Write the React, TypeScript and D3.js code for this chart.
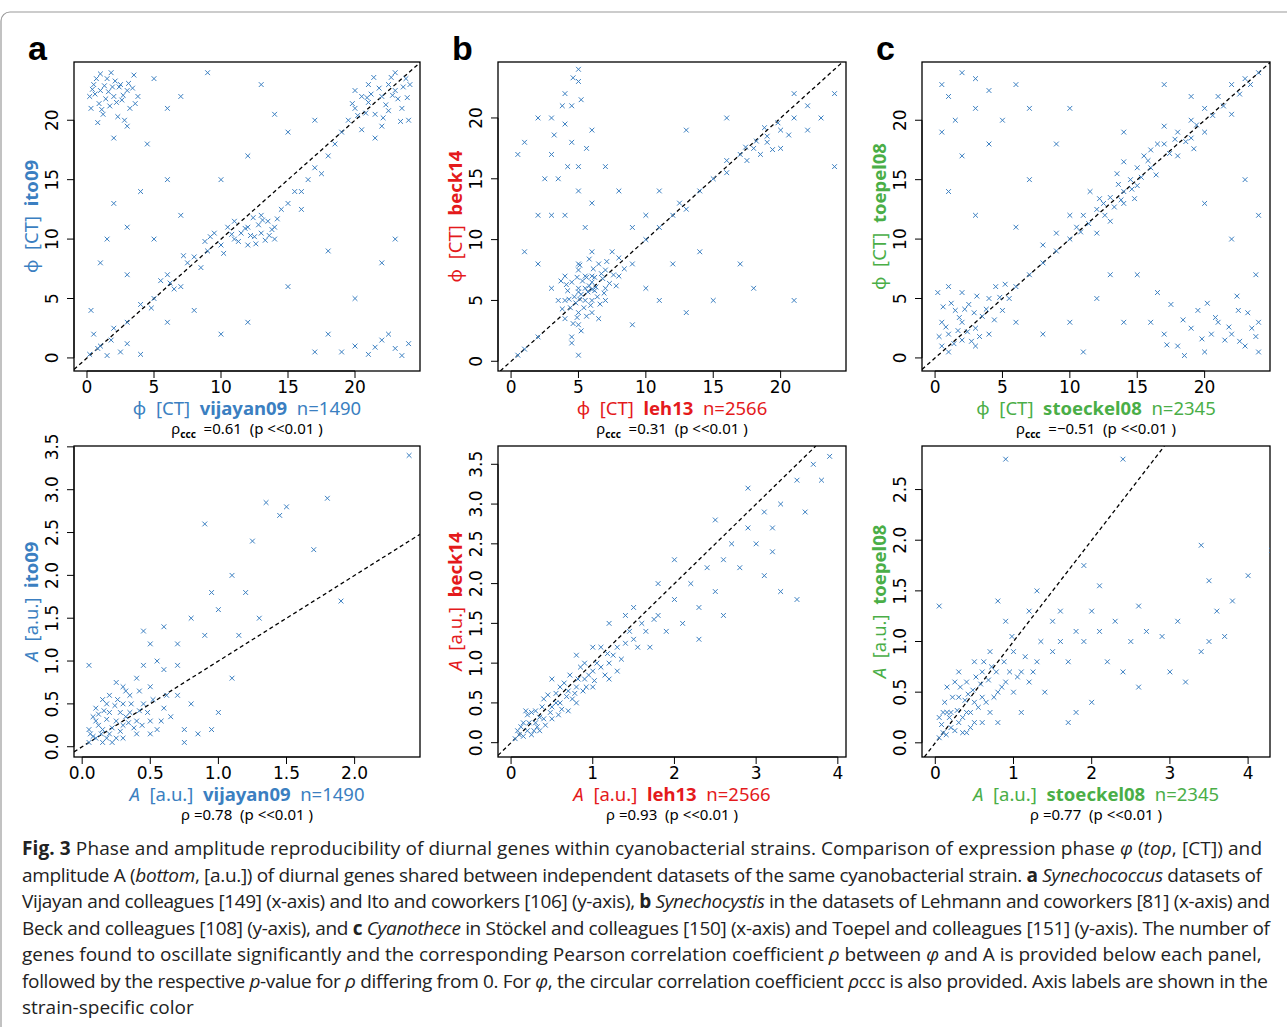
import React, { useEffect } from 'react'
import * as d3 from 'd3'

type P = [number, number]

const BLUE = '#3b7fc1'
const RED = '#e41a1c'
const GREEN = '#4aae47'

// phase panels (top)
const phaseA: P[] = [[0.5,23],[1,22.5],[1.5,23.5],[2,22],[2.5,23],[3,22.5],[3.5,23.8],[0.3,21],[1.2,20.5],[2.2,21.5],[3.2,21],[0.8,19.8],[1.8,24],[2.8,20],[3.8,22],[0.6,22.2],[1.4,21.8],[2.4,22.8],[3,19.5],[1,23.9],[5,23.5],[6,21],[7,22],[9,24],[13,23],[14,20.5],[4.5,18],[2,18.5],
  [1,1],[2,2.5],[3,3],[4,4.5],[5,5],[5.5,6.5],[6,7],[7,6],[7.5,8],[8,8.5],[9,9],[9.5,10.5],[10,9.5],[10.5,11],[11,10],[11.5,10.5],[12,11],[12.5,10.2],[13,10.5],[13.5,11.5],[14,11],[14.5,12.5],[15,13],[12,9.5],[13,12],[11,11.5],[14,10],[16,14],[16.5,15],[17,16],[17.5,15.5],[18,17],[18.5,18],[19,19],[15.5,14],[16,12.5],
  [19.5,20],[20,21],[20.5,22],[21,21.5],[21.5,20.5],[22,22],[22.5,23],[23,22.5],[23.5,21],[24,20],[21,23],[22,19.5],[20,22.5],[23,24],[23.8,23.5],[21.5,18.5],[22.5,20.8],[20.5,19.2],
  [0.2,0.3],[0.8,0.8],[1.5,0.2],[2.5,0.5],[3,1.2],[0.5,2],[1.8,1.5],[4,0.3],[0.3,4],
  [19,0.5],[20,1],[21,0.3],[22,1.5],[23,0.8],[23.5,0.2],[22.5,2],[21.5,0.9],[17,0.5],[18,2],[24,1.2],
  [3,11],[1,8],[2,13],[4,14],[6,3],[8,4],[10,2],[12,3],[5,10],[7,12],[10,15],[12,17],[15,19],[17,20],[18,9],[20,5],[23,10],[22,8],[15,6],[6,15],[1.5,10],[3,7]]
const phaseACore: P[] = [[0.4,22.6],[0.9,21.4],[1.3,22.9],[1.7,21.2],[2.1,23.3],[2.6,21.7],[3.1,23.1],[3.6,21.4],[0.7,23.5],[1.1,20.9],[1.6,22.4],[2.3,20.3],[2.7,22.1],[3.4,22.7],[0.2,22],[1.9,22.8],[12.2,10.3],[12.8,11.2],[13.3,9.9],[13.8,10.8],[11.8,10.9],[12.6,9.6],[13.1,11.6],[14.2,11.7],[11.3,9.8],[10.8,10.4],[12.4,11.8],[13.6,10.3],[21.2,22.2],[22.3,21.3],[23.2,21.8],[22.8,22.1],[21.8,22.7],[20.8,20.6],[23.6,22.8],[22.1,20.2],[23.9,21.9],[21.4,23.6],[20.2,20.4],[23.4,19.9],[22.7,23.6],[20.9,21.9],[19.8,21.4],[24.1,23],[4.8,4.2],[6.5,5.8],[8.5,7.6],[7.2,8.6],[9.2,10.2],[10.2,8.8],[8.8,9.8],[6.2,6.3]]

const phaseB: P[] = [[4,5],[5,6],[6,6.5],[5.5,5],[6,7],[7,7.5],[4.5,6.5],[5,4],[6,5],[7,6],[5,7.5],[4,3.5],[6.5,8],[5.5,6],[3.5,5],[8,7],[5,3],[4.5,2],[6,4],[7,5],[3,6],[5,8],[6,9],[5,0.5],[4.5,1.5],[8,8.5],[9,8],[7.5,9],[4,7],[6.5,3.5],[5.2,5.5],[5.8,6.2],[6.2,5.8],[4.8,4.8],[5.5,7],[6.8,6.8],
  [3,20],[4,22],[5,23],[4.5,18],[3.5,15],[5,14],[4,12],[5.5,11],[3,17],[6,19],[4.5,21],[5,16],[2,20],[1,18],[0.5,17],[2.5,15],[6,13],[3,12],[5,24],[4,19.5],[7,16],[2,12],
  [10,10],[11,11],[12,12],[13,12.5],[14,14],[15,15],[16,15.5],[17,17],[18,17.5],[19,18],[20,19],[21,20],[22,21],[23,20],[24,22],[19,18.5],[18.5,17],[20,17.5],[17.5,16.5],[21,22],[22,19],[24,16],[16,16.5],[12.5,13],[9,11],[10,12],
  [10,6],[13,4],[15,5],[18,6],[21,5],[11,5],[12,8],[9,3],[14,9],[17,8],[1,1],[2,2],[0.5,0.5],[13,19],[11,14],[8,14],[16,20],[1,9],[2,8]]
const phaseBCore: P[] = [[4.2,5.8],[4.7,5.3],[5.3,6.6],[5.7,5.7],[6.3,6.1],[6.7,7.2],[4.4,4.4],[5.1,5.1],[5.9,4.6],[6.4,5.3],[7.3,6.4],[4.9,6.9],[5.4,4.4],[6.1,7.6],[4.1,6.3],[5.6,3.7],[6.6,4.7],[7.6,7.1],[3.8,4.3],[5.2,2.5],[4.6,3.1],[5.8,8.4],[7.1,8.2],[6.9,5.6],[5.1,7.9],[4.3,5.1],[5.6,6.9],[6.2,6.9],[5.0,5.7],[6.0,5.9],[4.9,3.6],[3.7,6.6],[8.4,7.6],[7.8,6.2],[4.2,16],[3.8,21],[5.2,21.5],[4.6,23.3],[3.2,18.6],[5.6,17.5],[18.2,18.1],[19.4,17.4],[18.8,19.2],[17.4,17.6],[19.8,19.6],[20.6,18.6]]

const phaseC: P[] = [[0.5,1],[1,2],[2,3],[3,2.5],[1.5,4],[2.5,4.5],[3.5,3.5],[4,5],[0.5,3],[1,0.5],[2,1.5],[3,1],[4,2],[5,4],[4.5,6],[0.2,5.5],[1,6],[2,5.5],[5.5,5],[6,3],
  [6,6],[7,7],[8,8],[9,9],[10,10],[10.5,11],[11,12],[12,12.5],[12.5,13],[13,13.5],[14,14],[14.5,15],[15,16],[15.5,17],[16,17.5],[17,18],[18,19],[19,20],[20,21],[21,22],[22,23],[23,23.5],[24,24],[13,11.5],[14,13],[15,14.5],[16,16],[13.5,15.5],[11.5,14],[12,10.5],[17,19.5],[18,17],[19,18.5],[20,19],[10,12],[9,10.5],[8,9.5],[16.5,18],[14,16.5],[22,20.5],
  [16,3],[17,2],[18,1],[19,2.5],[20,0.5],[21,3],[22,2],[23,1],[24,3],[17.5,4.5],[19.5,4],[21.5,1.5],[23.5,2.5],[18.5,0.2],[22.5,4],[20.5,2],[24,0.5],[16.5,5.5],[15,7],[23.8,7],
  [0.5,23],[1,22],[2,24],[3,23.5],[4,22.5],[1.5,20],[3,21],[0.5,19],[5,20],[2,17],[4,18],[6,23],[7,21],[1,14],
  [8,2],[10,3],[12,5],[13,7],[11,0.5],[22,10],[24,12],[23,15],[20,13],[7,15],[9,18],[14,19],[17,23],[19,22],[10,21],[6,11],[3,12],[14,3]]
const phaseCCore: P[] = [[0.8,2.6],[1.4,1.2],[1.8,3.4],[2.4,2.2],[2.9,3.8],[3.3,1.8],[3.8,4.1],[4.4,3.2],[0.3,1.8],[1.2,4.6],[2.2,4.1],[3.1,5.2],[4.8,5.1],[5.2,6.2],[0.6,4.3],[1.7,2.3],[2.7,1.4],[12.6,12],[13.3,12.7],[13.8,13.3],[14.6,14.2],[15.3,15.2],[12.2,13.4],[13.6,14.6],[14.8,13.4],[15.8,16.6],[16.4,15.4],[17.4,17.2],[11.4,11.3],[10.8,10.6],[17.8,18.4],[19.4,19.6],[20.6,20.4],[21.4,21.2],[22.6,22.2],[23.4,23],[18.6,18.2],[19.2,17.6],[20.8,3.4],[21.8,2.6],[22.6,1.4],[23.2,3.8],[19.8,1.6],[18.4,3.2],[23.8,1.8],[17.2,1.1],[20.2,4.6],[22.4,5.2]]

// amplitude panels (bottom)
const ampA: P[] = [[0.05,0.05],[0.1,0.1],[0.15,0.2],[0.2,0.15],[0.25,0.3],[0.3,0.25],[0.35,0.4],[0.4,0.3],[0.1,0.3],[0.2,0.4],[0.3,0.5],[0.15,0.05],[0.25,0.1],[0.4,0.15],[0.5,0.3],[0.45,0.5],[0.35,0.6],[0.2,0.6],[0.1,0.45],[0.05,0.2],[0.55,0.2],[0.6,0.45],[0.5,0.7],[0.4,0.8],[0.3,0.7],[0.6,0.9],[0.7,0.6],[0.65,0.35],[0.75,0.2],[0.8,0.5],[0.15,0.55],[0.25,0.75],[0.45,0.95],[0.55,1.0],
  [0.7,1.2],[0.8,1.5],[0.9,1.3],[1.0,1.6],[1.1,2.0],[1.2,1.8],[0.9,2.6],[1.3,1.5],[0.6,1.4],[1.45,2.7],[1.5,2.8],[1.25,2.4],[1.8,2.9],[1.9,1.7],[1.7,2.3],[1.35,2.85],[2.4,3.4],[0.5,1.2],[0.95,0.2],[1.1,0.8],[1.0,0.4],[0.75,0.05],[0.85,0.15],[0.7,0.95],[1.15,1.3],[0.45,1.35],[0.95,1.8],[0.05,0.95]]
const ampACore: P[] = [[0.08,0.12],[0.12,0.25],[0.18,0.1],[0.22,0.22],[0.28,0.18],[0.32,0.35],[0.38,0.22],[0.42,0.42],[0.12,0.38],[0.18,0.32],[0.24,0.48],[0.28,0.4],[0.34,0.28],[0.08,0.35],[0.16,0.42],[0.36,0.5],[0.44,0.25],[0.48,0.4],[0.22,0.05],[0.3,0.1],[0.06,0.15],[0.14,0.15],[0.26,0.55],[0.52,0.55],[0.58,0.3],[0.32,0.65],[0.42,0.65],[0.5,0.15],[0.62,0.6],[0.18,0.5]]

const ampB: P[] = [[0.05,0.05],[0.1,0.1],[0.2,0.15],[0.3,0.25],[0.4,0.3],[0.5,0.45],[0.6,0.5],[0.7,0.65],[0.8,0.7],[0.9,0.8],[1.0,0.9],[1.1,0.95],[1.2,1.0],[1.3,1.2],[1.4,1.25],[1.5,1.3],[0.3,0.4],[0.5,0.3],[0.6,0.7],[0.8,0.5],[0.9,1.0],[1.0,0.7],[1.1,1.2],[1.2,0.8],[0.4,0.55],[0.2,0.35],[0.7,0.4],[1.3,0.9],[1.6,1.5],[1.7,1.2],[1.8,1.6],[1.9,1.4],[2.0,1.8],[2.1,1.5],[2.2,2.0],[2.3,1.7],[2.4,2.2],[2.5,1.9],[2.6,2.3],[2.7,2.5],[2.8,2.2],[2.9,2.7],[3.0,2.5],[3.1,2.9],[3.2,2.7],[3.3,3.0],[2.6,1.6],[2.3,1.3],[1.5,1.7],[1.2,1.5],[0.8,1.1],[0.5,0.8],[3.5,3.3],[3.6,2.9],[3.7,3.5],[3.8,3.3],[3.9,3.6],[3.2,2.4],[3.3,1.9],[3.5,1.8],[2.5,2.8],[2.0,2.3],[1.8,2.0],[1.4,1.6],[1.0,1.2],[0.15,0.25],[0.25,0.1],[0.35,0.15],[2.9,3.2],[3.1,2.1]]
const ampBCore: P[] = [[0.08,0.15],[0.15,0.08],[0.22,0.25],[0.28,0.15],[0.35,0.32],[0.42,0.22],[0.48,0.38],[0.55,0.5],[0.62,0.42],[0.68,0.58],[0.75,0.55],[0.82,0.8],[0.88,0.65],[0.95,0.85],[1.05,1.0],[1.15,0.85],[0.45,0.6],[0.55,0.62],[0.65,0.75],[0.72,0.85],[0.85,0.95],[0.38,0.45],[0.25,0.38],[0.58,0.35],[0.78,0.62],[0.92,0.7],[1.25,1.1],[1.35,1.05],[1.45,1.4],[1.55,1.2],[1.65,1.4],[1.75,1.55],[0.12,0.2],[0.32,0.2],[0.18,0.4],[1.02,0.78],[1.18,1.12]]

const ampC: P[] = [[0.05,0.05],[0.1,0.1],[0.2,0.15],[0.3,0.2],[0.4,0.3],[0.5,0.4],[0.6,0.45],[0.2,0.3],[0.3,0.45],[0.4,0.6],[0.1,0.3],[0.5,0.2],[0.7,0.3],[0.8,0.5],[0.9,0.6],[1.0,0.5],[1.1,0.7],[1.2,0.6],[1.3,0.8],[0.6,0.7],[0.7,0.9],[0.5,0.8],[0.3,0.7],[1.0,0.9],[1.4,0.5],[1.5,0.9],[1.6,1.0],[1.7,0.8],[1.8,1.1],[0.8,0.2],[1.1,0.3],[0.4,0.1],[0.15,0.55],[0.9,1.2],[0.8,1.4],[1.2,1.3],[1.5,1.2],
  [1.9,1.0],[2.0,1.3],[2.1,1.1],[2.2,0.8],[2.3,1.2],[2.5,1.0],[2.7,1.1],[2.9,1.05],[3.1,1.2],[3.2,0.6],[3.0,0.7],[3.4,0.9],[3.5,1.0],[3.6,1.3],[3.7,1.05],[3.8,1.4],[2.4,0.7],[2.6,0.55],[2.0,0.4],[1.8,0.3],[1.7,0.2],[1.9,1.75],[2.1,1.55],[2.6,1.35],[3.4,1.95],[3.5,1.6],[4.0,1.65],[4.3,1.9],[0.9,2.8],[2.4,2.8],[0.05,1.35],[1.3,1.5],[1.6,1.3]]
const ampCCore: P[] = [[0.08,0.18],[0.14,0.08],[0.18,0.25],[0.25,0.12],[0.28,0.32],[0.35,0.25],[0.38,0.42],[0.45,0.3],[0.48,0.52],[0.55,0.35],[0.58,0.58],[0.65,0.4],[0.68,0.62],[0.75,0.45],[0.78,0.7],[0.85,0.55],[0.12,0.4],[0.22,0.45],[0.32,0.55],[0.42,0.48],[0.52,0.65],[0.62,0.8],[0.72,0.75],[0.88,0.8],[0.95,0.7],[1.05,0.65],[1.15,0.85],[1.25,0.7],[0.25,0.6],[0.15,0.3],[0.05,0.25],[0.35,0.1],[0.6,0.2],[0.45,0.15],[1.35,1.0],[0.98,1.05]]

const phaseTicks = [0, 5, 10, 15, 20]
const ampTicksA = [0, 0.5, 1, 1.5, 2]
const ampTicksAY = [0, 0.5, 1, 1.5, 2, 2.5, 3, 3.5]
const ampTicks4 = [0, 1, 2, 3, 4]
const ampTicksCY = [0, 0.5, 1, 1.5, 2, 2.5]

const captionLines: [string, string][][] = [
  [['b', 'Fig. 3'], ['n', ' Phase and amplitude reproducibility of diurnal genes within cyanobacterial strains. Comparison of expression phase '], ['i', 'φ'], ['n', ' ('], ['i', 'top'], ['n', ', [CT]) and']],
  [['n', 'amplitude A ('], ['i', 'bottom'], ['n', ', [a.u.]) of diurnal genes shared between independent datasets of the same cyanobacterial strain. '], ['b', 'a'], ['n', ' '], ['i', 'Synechococcus'], ['n', ' datasets of']],
  [['n', 'Vijayan and colleagues [149] (x-axis) and Ito and coworkers [106] (y-axis), '], ['b', 'b'], ['n', ' '], ['i', 'Synechocystis'], ['n', ' in the datasets of Lehmann and coworkers [81] (x-axis) and']],
  [['n', 'Beck and colleagues [108] (y-axis), and '], ['b', 'c'], ['n', ' '], ['i', 'Cyanothece'], ['n', ' in Stöckel and colleagues [150] (x-axis) and Toepel and colleagues [151] (y-axis). The number of']],
  [['n', 'genes found to oscillate significantly and the corresponding Pearson correlation coefficient '], ['i', 'ρ'], ['n', ' between '], ['i', 'φ'], ['n', ' and A is provided below each panel,']],
  [['n', 'followed by the respective '], ['i', 'p'], ['n', '-value for '], ['i', 'ρ'], ['n', ' differing from 0. For '], ['i', 'φ'], ['n', ', the circular correlation coefficient '], ['i', 'ρ'], ['n', 'ccc is also provided. Axis labels are shown in the']],
  [['n', 'strain-specific color']],
]
const captionWidths = [1240, 1240, 1248, 1248, 0, 1246, 0]

const SP = '\u00a0\u00a0'

interface PanelProps {
  x0: number; x1: number; y0: number; y1: number
  xd: [number, number]; yd: [number, number]
  xt: number[]; yt: number[]; fx: (v: number) => string; fy: (v: number) => string
  pts: P[]
  xName: string; yName: string; xColor: string; yColor: string
  amp: boolean; n: string; stat: string; letter?: string
}

function Panel(p: PanelProps) {
  const x = d3.scaleLinear().domain(p.xd).range([p.x0, p.x1])
  const y = d3.scaleLinear().domain(p.yd).range([p.y1, p.y0])
  const lo = Math.max(p.xd[0], p.yd[0])
  const hi = Math.min(p.xd[1], p.yd[1])
  const cx = (p.x0 + p.x1) / 2
  const cy = (p.y0 + p.y1) / 2
  const id = `clip${p.x0}${p.y0}`
  const lab = "'Noto Sans', 'Open Sans', sans-serif"
  const pre = (c: string) => p.amp
    ? <><tspan fill={c} fontStyle="italic">A</tspan><tspan fill={c}>{SP}[a.u.]{SP}</tspan></>
    : <><tspan fill={c}>ϕ{SP}[CT]{SP}</tspan></>
  return (
    <g>
      <clipPath id={id}><rect x={p.x0} y={p.y0} width={p.x1 - p.x0} height={p.y1 - p.y0} /></clipPath>
      <rect x={p.x0} y={p.y0} width={p.x1 - p.x0} height={p.y1 - p.y0} fill="none" stroke="#000" strokeWidth={1.3} />
      <g clipPath={`url(#${id})`}>
        <line x1={x(lo)} y1={y(lo)} x2={x(hi)} y2={y(hi)} stroke="#000" strokeWidth={1.3} strokeDasharray="4,3" />
        {p.pts.map((d, i) => {
          const px = x(d[0]), py = y(d[1]), s = 2.4
          return <path key={i} d={`M${px - s},${py - s}L${px + s},${py + s}M${px - s},${py + s}L${px + s},${py - s}`} stroke={BLUE} strokeWidth={1} />
        })}
      </g>
      <line x1={x(p.xt[0])} x2={x(p.xt[p.xt.length - 1])} y1={p.y1} y2={p.y1} stroke="#000" />
      {p.xt.map(t => (
        <g key={t}>
          <line x1={x(t)} x2={x(t)} y1={p.y1} y2={p.y1 + 7} stroke="#000" />
          <text x={x(t)} y={p.y1 + 22} textAnchor="middle" fontSize={17}>{p.fx(t)}</text>
        </g>
      ))}
      <line x1={p.x0} x2={p.x0} y1={y(p.yt[0])} y2={y(p.yt[p.yt.length - 1])} stroke="#000" />
      {p.yt.map(t => (
        <g key={t}>
          <line x1={p.x0} x2={p.x0 - 7} y1={y(t)} y2={y(t)} stroke="#000" />
          <text transform={`translate(${p.x0 - 16},${y(t)}) rotate(-90)`} textAnchor="middle" fontSize={17}>{p.fy(t)}</text>
        </g>
      ))}
      <text x={cx} y={p.y1 + 44} textAnchor="middle" fontSize={18.5} fontFamily={lab}>
        {pre(p.xColor)}<tspan fill={p.xColor} fontWeight="bold">{p.xName}</tspan><tspan fill={p.xColor}>{SP}{p.n}</tspan>
      </text>
      <text transform={`translate(${p.x0 - 36},${cy}) rotate(-90)`} textAnchor="middle" fontSize={18.5} fontFamily={lab}>
        {pre(p.yColor)}<tspan fill={p.yColor} fontWeight="bold">{p.yName}</tspan>
      </text>
      <text x={cx} y={p.y1 + 63} textAnchor="middle" fontSize={15} fontFamily={lab}>
        {p.amp ? <tspan>ρ</tspan> : <><tspan>ρ</tspan><tspan fontSize={10} fontWeight="bold" dy={4}>ccc</tspan><tspan dy={-4}>{'\u00a0'}</tspan></>}
        <tspan>{p.stat}</tspan>
      </text>
      {p.letter && <text x={p.x0 - 46} y={p.y0 - 2} fontSize={34} fontWeight="bold" fontFamily="Liberation Sans, Arial, sans-serif">{p.letter}</text>}
    </g>
  )
}

export default function App() {
  useEffect(() => { document.body.style.margin = '0' }, [])
  const f0 = (v: number) => String(v)
  const f1 = (v: number) => v.toFixed(1)
  const phaseX: [number, number] = [-0.97, 24.85]
  const phaseY: [number, number] = [-1.1, 24.9]
  const cols: [number, number][] = [[74, 420], [498, 846], [922, 1270]]
  const st = (r: string) => `${'\u00a0'}=${r}${SP}(p <<0.01 )`
  return (
    <svg width={1287} height={1027} style={{ display: 'block' }} fontFamily="'DejaVu Sans', sans-serif">
      <rect x={0} y={0} width={1287} height={1027} fill="#fff" />
      <rect x={1} y={12} width={1300} height={1040} rx={9} fill="none" stroke="#9a9a9a" strokeWidth={1.2} />
      <Panel x0={cols[0][0]} x1={cols[0][1]} y0={62} y1={371} xd={phaseX} yd={phaseY} xt={phaseTicks} yt={phaseTicks} fx={f0} fy={f0}
        pts={[...phaseA, ...phaseACore]} xName="vijayan09" yName="ito09" xColor={BLUE} yColor={BLUE} amp={false} n="n=1490" stat={st('0.61')} letter="a" />
      <Panel x0={cols[1][0]} x1={cols[1][1]} y0={62} y1={371} xd={phaseX} yd={[-0.8, 24.6]} xt={phaseTicks} yt={phaseTicks} fx={f0} fy={f0}
        pts={[...phaseB, ...phaseBCore]} xName="leh13" yName="beck14" xColor={RED} yColor={RED} amp={false} n="n=2566" stat={st('0.31')} letter="b" />
      <Panel x0={cols[2][0]} x1={cols[2][1]} y0={62} y1={371} xd={phaseX} yd={phaseY} xt={phaseTicks} yt={phaseTicks} fx={f0} fy={f0}
        pts={[...phaseC, ...phaseCCore]} xName="stoeckel08" yName="toepel08" xColor={GREEN} yColor={GREEN} amp={false} n="n=2345" stat={st('−0.51')} letter="c" />
      <Panel x0={cols[0][0]} x1={cols[0][1]} y0={446} y1={757} xd={[-0.06, 2.48]} yd={[-0.12, 3.51]} xt={ampTicksA} yt={ampTicksAY} fx={f1} fy={f1}
        pts={[...ampA, ...ampACore]} xName="vijayan09" yName="ito09" xColor={BLUE} yColor={BLUE} amp={true} n="n=1490" stat={st('0.78')} />
      <Panel x0={cols[1][0]} x1={cols[1][1]} y0={446} y1={757} xd={[-0.16, 4.1]} yd={[-0.18, 3.73]} xt={ampTicks4} yt={ampTicksAY} fx={f0} fy={f1}
        pts={[...ampB, ...ampBCore]} xName="leh13" yName="beck14" xColor={RED} yColor={RED} amp={true} n="n=2566" stat={st('0.93')} />
      <Panel x0={cols[2][0]} x1={cols[2][1]} y0={446} y1={757} xd={[-0.17, 4.28]} yd={[-0.14, 2.93]} xt={ampTicks4} yt={ampTicksCY} fx={f0} fy={f1}
        pts={[...ampC, ...ampCCore]} xName="stoeckel08" yName="toepel08" xColor={GREEN} yColor={GREEN} amp={true} n="n=2345" stat={st('0.77')} />
      <g fontFamily="'Open Sans', 'Noto Sans', sans-serif" fontSize={19} fill="#222">
        {captionLines.map((line, i) => (
          <text key={i} x={22} y={855 + i * 26.5} {...(captionWidths[i] ? { textLength: captionWidths[i], lengthAdjust: 'spacing' } : {})}>
            {line.map(([k, s], j) => (
              <tspan key={j} fontWeight={k === 'b' ? 'bold' : undefined} fontStyle={k === 'i' ? 'italic' : undefined}>{s}</tspan>
            ))}
          </text>
        ))}
      </g>
    </svg>
  )
}
